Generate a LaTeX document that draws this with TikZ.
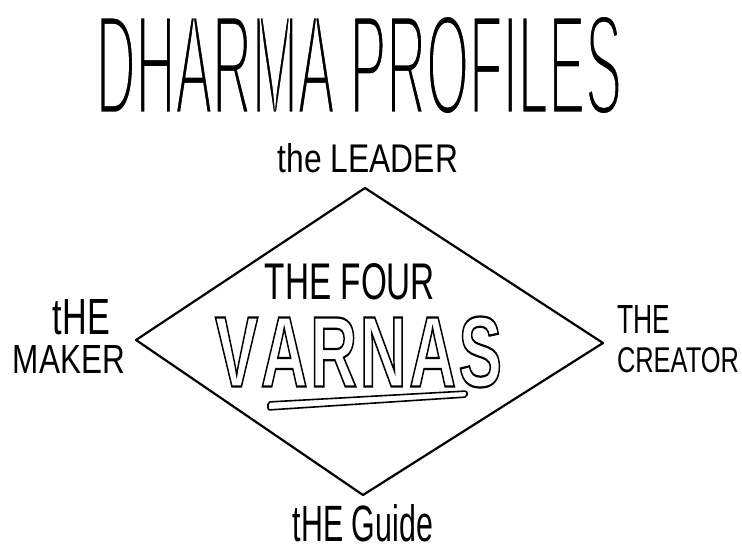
\documentclass[tikz,border=0pt]{standalone}
\usepackage{fontspec}
\usepackage{graphicx}
\setmainfont{Liberation Sans}
\newcommand\fitbox[3]{\resizebox{#1pt}{#2pt}{#3}}
% stroke-only glyphs (hollow letters)
\newcommand\hollowtext[2]{\special{pdf:literal direct 1 Tr #1 w}#2\special{pdf:literal direct 0 Tr}}
% glyphs thinned by a white stroke round their outline
\newcommand\thintext[2]{\special{pdf:literal direct 2 Tr 1 1 1 RG #1 w}#2\special{pdf:literal direct 0 Tr 0 0 0 RG}}
\tikzset{
  lbl/.style={inner sep=0pt, outer sep=0pt, anchor=center},
  ink/.style={line width=2.2pt, line join=round, line cap=round}
}
\begin{document}
\begin{tikzpicture}[x=1pt,y=-1pt]
\useasboundingbox[fill=white] (0,0) rectangle (742,556);
% title
\node[lbl] (title) at (359,65) {\fitbox{526}{100}{\thintext{0.36}{DHARMA PROFILES}}};
% diamond
\coordinate (top) at (365,188);
\coordinate (right) at (603,343);
\coordinate (bottom) at (363,495);
\coordinate (left) at (136,340);
\draw[ink] (top) -- (right) -- (bottom) -- (left) -- cycle;
% labels
\node[lbl] (leader) at (368,158.5) {\fitbox{180}{29}{the LEADER}};
\node[lbl] (makerA) at (81.5,317.5) {\fitbox{57}{35}{tHE}};
\node[lbl] (makerB) at (69,359) {\fitbox{112}{28}{MAKER}};
\node[lbl] (creatorA) at (643.5,319) {\fitbox{53}{28}{THE}};
\node[lbl] (creatorB) at (678,360.5) {\fitbox{122}{25}{CREATOR}};
\node[lbl] (guide) at (363,523.5) {\fitbox{140}{37}{tHE Guide}};
% centre
\node[lbl] (four) at (350,281.5) {\fitbox{170}{36}{THE FOUR}};
\node[lbl] (varnas) at (358.5,352) {\fitbox{287}{70}{\bfseries\hollowtext{0.22}{V\kern0.04em A\kern0.04em R\kern0.04em N\kern0.04em A\kern0.04em S}}};
\draw[line width=1.6pt, line join=round, rounded corners=2pt]
  (268,402) -- (467,391) -- (467,397) -- (268,410) -- cycle;
\end{tikzpicture}
\end{document}
